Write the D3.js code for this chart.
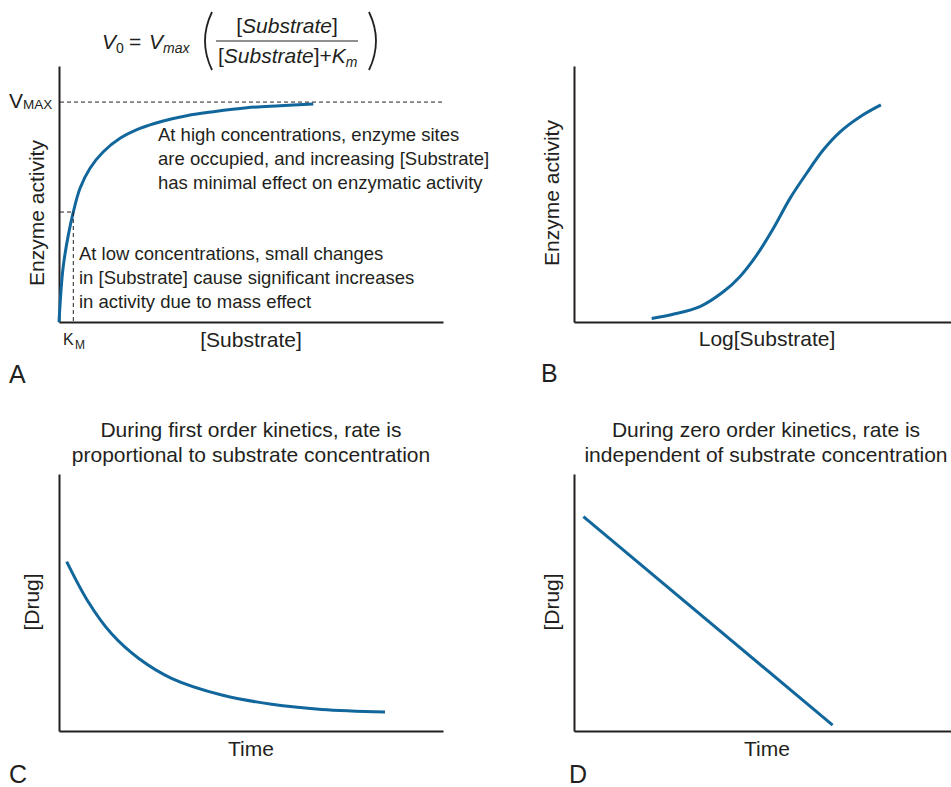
<!DOCTYPE html>
<html>
<head lang="en">
<meta charset="UTF-8">
<title>Enzyme kinetics</title>
<style>
body { margin: 0; background: #fff; }
svg text { font-family: "Liberation Sans", Arial, Helvetica, sans-serif; fill: #231f20; }
.lab { font-size: 21px; }
.note { font-size: 18.5px; }
.letter { font-size: 25px; }
.eq { font-size: 21px; }
</style>
<script src="https://d3js.org/d3.v7.min.js"></script>
</head>
<body>
<div id="vis"></div>
<script>
// values

// A: x in units of Km, y as a fraction of Vmax
var subA = [0, 0.28, 0.65, 1.0, 1.47, 2.17, 3.1, 4.27, 5.66, 7.29, 8.93, 10.79, 13.13, 15.45, 17.78];
var actA = [0, 0.244, 0.395, 0.5, 0.608, 0.699, 0.774, 0.835, 0.88, 0.914, 0.938, 0.956, 0.974, 0.983, 0.991];
var vmax = 1, km = 1;

// B: log[substrate] vs activity
var logB = [2.06, 2.63, 3.34, 3.96, 4.40, 4.85, 5.29, 5.73, 6.17, 6.61, 7.06, 7.59, 8.14];
var actB = [1.4, 3.0, 6.0, 11.8, 17.7, 26.2, 36.6, 48.3, 58.1, 67.2, 74.3, 80.2, 84.8];

// C: first order
var timeC = [0.2, 0.76, 1.37, 2.07, 2.93, 4.24, 5.54, 6.84, 8.49];
var drugC = [65.9, 50.3, 37.8, 28.3, 20.5, 14.0, 10.4, 8.4, 7.4];

// D: zero order
var timeD = [0.25, 6.86];
var drugD = [83.4, 2.3];

var notesHigh = ["At high concentrations, enzyme sites",
                 "are occupied, and increasing [Substrate]",
                 "has minimal effect on enzymatic activity"];
var notesLow = ["At low concentrations, small changes",
                "in [Substrate] cause significant increases",
                "in activity due to mass effect"];
var titleC = ["During first order kinetics, rate is", "proportional to substrate concentration"];
var titleD = ["During zero order kinetics, rate is", "independent of substrate concentration"];

var blue = "#11679c";
var ink = "#231f20";

var svg = d3.select("#vis").append("svg")
  .attr("width", 951)
  .attr("height", 787);

function zip(xs, ys) {
  return xs.map(function(d, i) { return {x: d, y: ys[i]}; });
}

// one panel: scales + bare axes + curve
function panel(xs, ys, xdom, ydom, xr, yr) {
  var x = d3.scaleLinear().domain(xdom).range(xr);
  var y = d3.scaleLinear().domain(ydom).range(yr);

  svg.append("g")
    .attr("transform", "translate(0," + yr[0] + ")")
    .call(d3.axisBottom(x).tickValues([]).tickSizeOuter(0));
  svg.append("g")
    .attr("transform", "translate(" + xr[0] + ",0)")
    .call(d3.axisLeft(y).tickValues([]).tickSizeOuter(0));

  var line = d3.line()
    .x(function(d) { return x(d.x); })
    .y(function(d) { return y(d.y); })
    .curve(d3.curveCatmullRom.alpha(0.5));

  svg.append("path")
    .datum(zip(xs, ys))
    .attr("d", line)
    .attr("fill", "none")
    .attr("stroke", blue)
    .attr("stroke-width", 3);

  return {x: x, y: y};
}

var A = panel(subA, actA, [0, 26.85], [0, 1.164], [59, 443], [322, 66]);
var B = panel(logB, actB, [0, 10], [0, 100], [574, 951], [322, 66]);
var C = panel(timeC, drugC, [0, 10], [0, 100], [59, 443], [731, 474]);
var D = panel(timeD, drugD, [0, 10], [0, 100], [574, 951], [731, 474]);

svg.selectAll(".domain")
  .attr("stroke", ink)
  .attr("stroke-width", 2);

// dashed guides in A
function dash(x1, y1, x2, y2) {
  svg.append("line")
    .attr("x1", x1).attr("y1", y1).attr("x2", x2).attr("y2", y2)
    .attr("stroke", ink)
    .attr("stroke-width", 1)
    .attr("stroke-dasharray", "4,3");
}
dash(A.x(0) + 1, A.y(vmax), 442, A.y(vmax));
dash(A.x(0) + 1, A.y(vmax / 2), A.x(km), A.y(vmax / 2));
dash(A.x(km), A.y(vmax / 2), A.x(km), A.y(0) - 1);

// text helpers
function txt(x, y, s, cls, anchor) {
  return svg.append("text")
    .attr("x", x).attr("y", y)
    .attr("class", cls)
    .attr("text-anchor", anchor || "start")
    .text(s);
}
function vtxt(x, y, s) {
  return svg.append("text")
    .attr("class", "lab")
    .attr("text-anchor", "middle")
    .attr("transform", "translate(" + x + "," + y + ") rotate(-90)")
    .text(s);
}

// axis labels
vtxt(44, 213, "Enzyme activity");
txt(251, 347, "[Substrate]", "lab", "middle");
vtxt(559, 193, "Enzyme activity");
txt(767, 346, "Log[Substrate]", "lab", "middle");
vtxt(39, 602, "[Drug]");
txt(251, 756, "Time", "lab", "middle");
vtxt(559, 602, "[Drug]");
txt(767, 756, "Time", "lab", "middle");

// titles
titleC.forEach(function(s, i) { txt(251, 437 + i * 24.5, s, "lab", "middle"); });
titleD.forEach(function(s, i) { txt(766, 437 + i * 24.5, s, "lab", "middle"); });

// notes in A
notesHigh.forEach(function(s, i) { txt(158, 141 + i * 24, s, "note"); });
notesLow.forEach(function(s, i) { txt(79, 260 + i * 24, s, "note"); });

// panel letters
txt(9, 383, "A", "letter");
txt(541, 382, "B", "letter");
txt(9, 783, "C", "letter");
txt(569, 783, "D", "letter");

// V max and K m marks
txt(9, 108, "V").style("font-size", "21px");
txt(23, 109, "MAX").style("font-size", "13.5px");
txt(63, 345, "K").style("font-size", "16px");
txt(75, 349, "M").style("font-size", "12px");

// equation
txt(102, 49, "V", "eq").style("font-style", "italic");
txt(116, 53, "0").style("font-size", "14px");
txt(129, 49, "=", "eq");
txt(149, 49, "V", "eq").style("font-style", "italic");
txt(163, 53, "max").style("font-size", "14px").style("font-style", "italic");

var num = svg.append("text").attr("class", "eq").attr("x", 287).attr("y", 33).attr("text-anchor", "middle");
num.append("tspan").text("[");
num.append("tspan").style("font-style", "italic").text("Substrate");
num.append("tspan").text("]");

var den = svg.append("text").attr("class", "eq").attr("x", 218).attr("y", 63);
den.append("tspan").text("[");
den.append("tspan").style("font-style", "italic").text("Substrate");
den.append("tspan").text("]+");
den.append("tspan").style("font-style", "italic").text("K");
den.append("tspan").style("font-style", "italic").style("font-size", "14px").attr("dy", 4).text("m");

svg.append("line")
  .attr("x1", 216).attr("x2", 358).attr("y1", 41).attr("y2", 41)
  .attr("stroke", ink).attr("stroke-width", 1);

// big parentheses
svg.append("path")
  .attr("d", "M212,12 Q198,41 212,70")
  .attr("fill", "none").attr("stroke", ink).attr("stroke-width", 1.8);
svg.append("path")
  .attr("d", "M369,12 Q383,41 369,70")
  .attr("fill", "none").attr("stroke", ink).attr("stroke-width", 1.8);
</script>
</body>
</html>
